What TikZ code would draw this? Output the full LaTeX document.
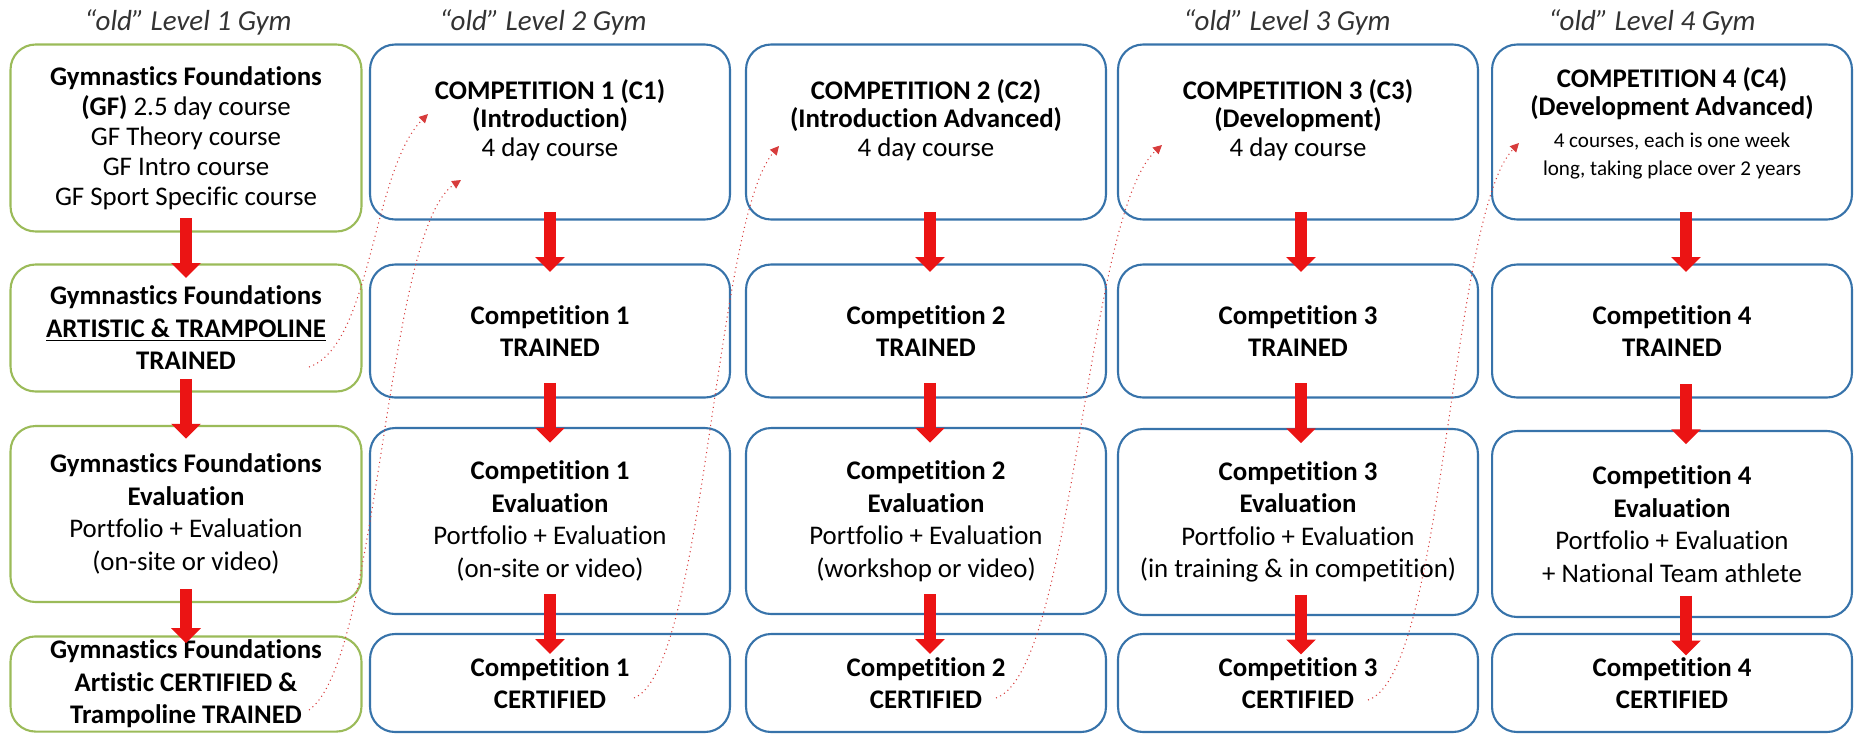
\documentclass[tikz,border=0pt]{standalone}
\usepackage{fontspec}
\setmainfont[Ligatures=NoCommon]{Carlito}
\usetikzlibrary{arrows.meta,calc}

\definecolor{gfgreen}{RGB}{155,187,89}
\definecolor{compblue}{RGB}{55,115,170}
\definecolor{flowred}{RGB}{235,20,20}
\definecolor{linkred}{RGB}{215,60,60}

\begin{document}
\begin{tikzpicture}[
  x=0.02cm, y=-0.02cm,
  box/.style={draw, rounded corners=0.5cm, line width=1.2pt, align=center, inner sep=2pt,
    font=\fontsize{15.3}{18.5}\selectfont},
  gbox/.style={box, draw=gfgreen, minimum width=7.02cm},
  bbox/.style={box, draw=compblue, minimum width=7.2cm},
  rowa/.style={minimum height=3.5cm, font=\fontsize{15.3}{16}\selectfont},
  rowb/.style={minimum height=2.66cm},
  rowc/.style={minimum height=3.72cm},
  rowd/.style={minimum height=1.96cm},
  gymlevel/.style={font=\fontsize{16.5}{18}\selectfont\itshape, text=black!80},
  flow/.style={draw=flowred, line width=0.24cm, -{Triangle[length=0.3cm,width=0.58cm]}},
  link/.style={draw=linkred, line width=0.6pt, dotted, -{Triangle[length=5pt,width=5pt]}}
]
  \useasboundingbox (0,0) rectangle (1872,735);

  % level titles
  \node[gymlevel] (l1) at (188,22) {“old” Level 1 Gym};
  \node[gymlevel] (l2) at (543,22) {“old” Level 2 Gym};
  \node[gymlevel] (l3) at (1287,22) {“old” Level 3 Gym};
  \node[gymlevel] (l4) at (1652,22) {“old” Level 4 Gym};

  % gymnastics foundations
  \node[gbox, minimum height=3.74cm, font=\fontsize{15.3}{17}\selectfont] (g1) at (186,138)
    {\textbf{Gymnastics Foundations}\\\textbf{(GF)} 2.5 day course\\GF Theory course\\GF Intro course\\GF Sport Specific course};
  \node[gbox, minimum height=2.54cm] (g2) at (186,328)
    {\textbf{Gymnastics Foundations}\\\textbf{\underline{ARTISTIC \& TRAMPOLINE}}\\\textbf{TRAINED}};
  \node[gbox, minimum height=3.52cm] (g3) at (186,514)
    {\textbf{Gymnastics Foundations}\\\textbf{Evaluation}\\Portfolio + Evaluation\\(on-site or video)};
  \node[gbox, minimum height=1.88cm] (g4) at (186,684)
    {\textbf{Gymnastics Foundations}\\\textbf{Artistic CERTIFIED \&}\\\textbf{Trampoline TRAINED}};

  % competition 1
  \node[bbox, rowa] (c11) at (550,132)
    {\textbf{COMPETITION 1 (C1)}\\\textbf{(Introduction)}\\4 day course\\\mbox{}};
  \node[bbox, rowb] (c12) at (550,331) {\textbf{Competition 1}\\\textbf{TRAINED}};
  \node[bbox, rowc] (c13) at (550,521)
    {\textbf{Competition 1}\\\textbf{Evaluation}\\Portfolio + Evaluation\\(on-site or video)};
  \node[bbox, rowd] (c14) at (550,683) {\textbf{Competition 1}\\\textbf{CERTIFIED}};

  % competition 2
  \node[bbox, rowa] (c21) at (926,132)
    {\textbf{COMPETITION 2 (C2)}\\\textbf{(Introduction Advanced)}\\4 day course\\\mbox{}};
  \node[bbox, rowb] (c22) at (926,331) {\textbf{Competition 2}\\\textbf{TRAINED}};
  \node[bbox, rowc] (c23) at (926,521)
    {\textbf{Competition 2}\\\textbf{Evaluation}\\Portfolio + Evaluation\\(workshop or video)};
  \node[bbox, rowd] (c24) at (926,683) {\textbf{Competition 2}\\\textbf{CERTIFIED}};

  % competition 3
  \node[bbox, rowa] (c31) at (1298,132)
    {\textbf{COMPETITION 3 (C3)}\\\textbf{(Development)}\\4 day course\\\mbox{}};
  \node[bbox, rowb] (c32) at (1298,331) {\textbf{Competition 3}\\\textbf{TRAINED}};
  \node[bbox, rowc] (c33) at (1298,522)
    {\textbf{Competition 3}\\\textbf{Evaluation}\\Portfolio + Evaluation\\(in training \& in competition)};
  \node[bbox, rowd] (c34) at (1298,683) {\textbf{Competition 3}\\\textbf{CERTIFIED}};

  % competition 4
  \node[bbox, rowa] (c41) at (1672,132)
    {\textbf{COMPETITION 4 (C4)}\\\textbf{(Development Advanced)}\\[2pt]
     {\fontsize{12}{14}\selectfont 4 courses, each is one week}\\
     {\fontsize{12}{14}\selectfont long, taking place over 2 years}\\[-4pt]\mbox{}};
  \node[bbox, rowb] (c42) at (1672,331) {\textbf{Competition 4}\\\textbf{TRAINED}};
  \node[bbox, rowc] (c43) at (1672,524)
    {\textbf{Competition 4}\\\textbf{Evaluation}\\Portfolio + Evaluation\\+ National Team athlete};
  \node[bbox, rowd] (c44) at (1672,683) {\textbf{Competition 4}\\\textbf{CERTIFIED}};

  % flow arrows
  \draw[flow] ($(g1.south)!0.5!(g2.north)+(0,-30)$) -- ($(g1.south)!0.5!(g2.north)+(0,30)$);
  \draw[flow] ($(g2.south)!0.5!(g3.north)+(0,-30)$) -- ($(g2.south)!0.5!(g3.north)+(0,30)$);
  \draw[flow] ($(g3.south)!0.5!(g4.north)+(0,-30)$) -- ($(g3.south)!0.5!(g4.north)+(0,24)$);

  \draw[flow] ($(c11.south)!0.5!(c12.north)+(0,-30)$) -- ($(c11.south)!0.5!(c12.north)+(0,30)$);
  \draw[flow] ($(c12.south)!0.5!(c13.north)+(0,-30)$) -- ($(c12.south)!0.5!(c13.north)+(0,30)$);
  \draw[flow] ($(c13.south)!0.5!(c14.north)+(0,-30)$) -- ($(c13.south)!0.5!(c14.north)+(0,30)$);

  \draw[flow] ($(c21.south)!0.5!(c22.north)+(4,-30)$) -- ($(c21.south)!0.5!(c22.north)+(4,30)$);
  \draw[flow] ($(c22.south)!0.5!(c23.north)+(4,-30)$) -- ($(c22.south)!0.5!(c23.north)+(4,30)$);
  \draw[flow] ($(c23.south)!0.5!(c24.north)+(4,-30)$) -- ($(c23.south)!0.5!(c24.north)+(4,30)$);

  \draw[flow] ($(c31.south)!0.5!(c32.north)+(3,-30)$) -- ($(c31.south)!0.5!(c32.north)+(3,30)$);
  \draw[flow] ($(c32.south)!0.5!(c33.north)+(3,-30)$) -- ($(c32.south)!0.5!(c33.north)+(3,30)$);
  \draw[flow] ($(c33.south)!0.5!(c34.north)+(3,-30)$) -- ($(c33.south)!0.5!(c34.north)+(3,30)$);

  \draw[flow] ($(c41.south)!0.5!(c42.north)+(14,-30)$) -- ($(c41.south)!0.5!(c42.north)+(14,30)$);
  \draw[flow] ($(c42.south)!0.5!(c43.north)+(14,-30)$) -- ($(c42.south)!0.5!(c43.north)+(14,30)$);
  \draw[flow] ($(c43.south)!0.5!(c44.north)+(14,-30)$) -- ($(c43.south)!0.5!(c44.north)+(14,30)$);

  % dotted links to the next level
  \coordinate (s1) at (309,367);  \coordinate (e1) at (428,114);
  \coordinate (s2) at (309,710);  \coordinate (e2) at (461,180);
  \coordinate (s3) at (634,698);  \coordinate (e3) at (779,146);
  \coordinate (s4) at (996,698);  \coordinate (e4) at (1162,145);
  \coordinate (s5) at (1368,700); \coordinate (e5) at (1519,143);

  \draw[link] (s1) .. controls (372,345) and (372,170) .. (e1);
  \draw[link] (s2) .. controls (380,660) and (385,230) .. (e2);
  \draw[link] (s3) .. controls (705,670) and (715,220) .. (e3);
  \draw[link] (s4) .. controls (1075,670) and (1085,215) .. (e4);
  \draw[link] (s5) .. controls (1445,675) and (1450,215) .. (e5);

\end{tikzpicture}
\end{document}
